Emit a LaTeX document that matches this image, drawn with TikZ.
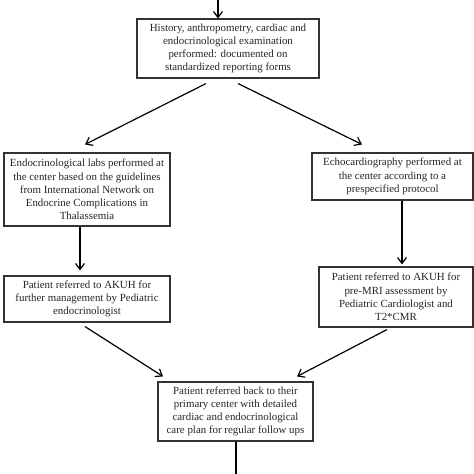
\documentclass[tikz,border=0pt]{standalone}
\usepackage{fontspec}
\setmainfont{Liberation Serif}
\usetikzlibrary{arrows.meta}
\begin{document}
\begin{tikzpicture}[x=1pt,y=-1pt,
  box/.style={draw=black!80, line width=1.1pt, rectangle, align=center, inner sep=0pt,
    font=\fontsize{10.9}{13.2}\selectfont, text=black!85},
  conn/.style={line width=1.2pt, -{Straight Barb[length=6pt,width=9pt,line width=1.2pt]}}]
\useasboundingbox (0,0) rectangle (474,474);
\fill[white] (0,0) rectangle (474,474);
\node[box, minimum width=182pt, minimum height=59pt] (top) at (228,48.5)
  {History, anthropometry, cardiac and\\endocrinological examination\\performed: documented on\\standardized reporting forms};
\node[box, minimum width=166pt, minimum height=73pt] (left1) at (87,189.5)
  {Endocrinological labs performed at\\the center based on the guidelines\\from International Network on\\Endocrine Complications in\\Thalassemia};
\node[box, minimum width=161pt, minimum height=47pt] (right1) at (392.5,176.5)
  {Echocardiography performed at\\the center according to a\\prespecified protocol};
\node[box, minimum width=166pt, minimum height=46pt] (left2) at (87,299)
  {Patient referred to AKUH for\\further management by Pediatric\\endocrinologist};
\node[box, minimum width=154pt, minimum height=60pt] (right2) at (396,297)
  {Patient referred to AKUH for\\pre-MRI assessment by\\Pediatric Cardiologist and\\T2*CMR};
\node[box, minimum width=155pt, minimum height=59pt] (bottom) at (235.5,411.5)
  {Patient referred back to their\\primary center with detailed\\cardiac and endocrinological\\care plan for regular follow ups};
\coordinate (in) at (218,-12);
\coordinate (out) at (236,481);
\draw[conn] (in) -- ([xshift=-10pt]top.north);
\draw[conn] ([xshift=-22pt,yshift=-5pt]top.south) -- ([xshift=-2pt,yshift=8pt]left1.north);
\draw[conn] ([xshift=10pt,yshift=-5pt]top.south) -- ([xshift=-30.5pt,yshift=8pt]right1.north);
\draw[conn] ([xshift=-7pt]left1.south) -- ([xshift=-7pt,yshift=5pt]left2.north);
\draw[conn] ([xshift=9.5pt]right1.south) -- ([xshift=6pt,yshift=2pt]right2.north);
\draw[conn] ([xshift=-2pt,yshift=-4pt]left2.south) -- ([xshift=-72.5pt,yshift=5pt]bottom.north);
\draw[conn] ([xshift=-9pt,yshift=-2pt]right2.south) -- ([xshift=61.5pt,yshift=5pt]bottom.north);
\draw[conn] ([xshift=0.5pt]bottom.south) -- (out);
\end{tikzpicture}
\end{document}
